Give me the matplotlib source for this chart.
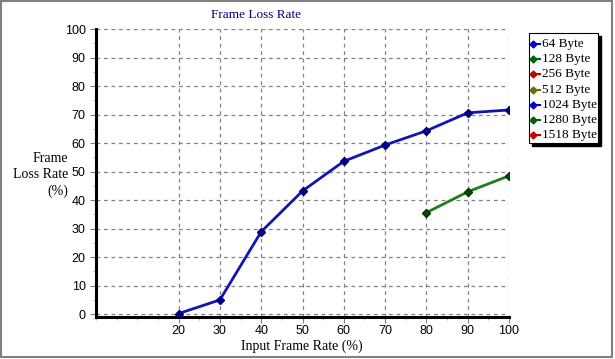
import matplotlib

matplotlib.use("Agg")

import matplotlib.pyplot as plt
from matplotlib.lines import Line2D
from matplotlib.patches import Rectangle
from matplotlib.ticker import MultipleLocator

# data
input_rates = [20, 30, 40, 50, 60, 70, 80, 90, 100]
loss_64 = [0.2, 5.0, 28.9, 43.2, 53.6, 59.3, 64.3, 70.6, 71.6]
rates_128 = [80, 90, 100]
loss_128 = [35.6, 42.9, 48.5]
legend_labels = ["64 Byte", "128 Byte", "256 Byte", "512 Byte", "1024 Byte", "1280 Byte", "1518 Byte"]
legend_colors = ["#0000c8", "#006400", "#c80000", "#6b6b00", "#0000c8", "#006400", "#c80000"]
x_ticks = [20, 30, 40, 50, 60, 70, 80, 90, 100]
y_ticks = [0, 10, 20, 30, 40, 50, 60, 70, 80, 90, 100]

serif = "Liberation Serif"
sans = "Liberation Sans"

fig = plt.figure(figsize=(6.15, 3.59), dpi=100)
fig.patch.set_facecolor("white")
fig.patches.append(Rectangle((0.002, 0.006), 0.993, 0.99, transform=fig.transFigure,
                             fill=False, edgecolor="#808080", linewidth=1.5))

ax = fig.add_axes([96 / 615, 1 - 317 / 359, (509 - 96) / 615, (317 - 29) / 359])
ax.set_xlim(0, 100)
ax.set_ylim(-1, 100)

ax.plot(input_rates, loss_64, color="#1414b4", linewidth=2, marker="D", markersize=4,
        markerfacecolor="#000090", markeredgecolor="#000070", zorder=3)
ax.plot(rates_128, loss_128, color="#1e7d1e", linewidth=2, marker="D", markersize=4,
        markerfacecolor="#005000", markeredgecolor="#003000", zorder=3)

ax.set_xticks(x_ticks)
ax.set_yticks(y_ticks)
ax.yaxis.set_minor_locator(MultipleLocator(5))
ax.xaxis.set_minor_locator(MultipleLocator(5))
ax.grid(True, which="major", linestyle=(0, (3, 3)), color="#808080", linewidth=0.9)
ax.set_axisbelow(True)

for side in ["top", "right"]:
    ax.spines[side].set_visible(False)
ax.spines["left"].set_linewidth(2.2)
ax.spines["bottom"].set_linewidth(2.2)

ax.tick_params(axis="both", which="major", length=4, width=0.8, color="#808080", labelsize=9)
ax.tick_params(axis="x", which="major", pad=1.5)
ax.tick_params(axis="both", which="minor", length=2, width=0.6, color="#a0a0a0")
for label in ax.get_xticklabels() + ax.get_yticklabels():
    label.set_fontfamily(sans)

fig.text(256 / 615, 1 - 15 / 359, "Frame Loss Rate", color="#000080", fontsize=9.5,
         family=serif, ha="center", va="center")
fig.text(302 / 615, 1 - 346 / 359, "Input Frame Rate (%)", color="black", fontsize=10,
         family=serif, ha="center", va="center")
fig.text(68 / 615, 1 - 175 / 359, "Frame\nLoss Rate\n(%)", color="black", fontsize=10,
         family=serif, ha="right", va="center", linespacing=1.35)

# legend box with drop shadow
lx0, ly0, lw, lh = 529, 33, 69, 110
fig.patches.append(Rectangle(((lx0 + 3) / 615, 1 - (ly0 + lh + 3) / 359), lw / 615, lh / 359,
                             transform=fig.transFigure, facecolor="black", edgecolor="black"))
fig.patches.append(Rectangle((lx0 / 615, 1 - (ly0 + lh) / 359), lw / 615, lh / 359,
                             transform=fig.transFigure, facecolor="white", edgecolor="black",
                             linewidth=0.8))
for i, (name, col) in enumerate(zip(legend_labels, legend_colors)):
    yy = 1 - (ly0 + 11 + i * 15.2) / 359
    fig.lines.append(Line2D([(lx0 + 4) / 615, (lx0 + 11) / 615], [yy, yy], transform=fig.transFigure,
                            color=col, linewidth=1.5, marker="D", markersize=3.5,
                            markevery=[0], markerfacecolor=col, markeredgecolor=col))
    fig.text((lx0 + 13) / 615, yy, name, fontsize=9.5, family=serif, ha="left", va="center")

fig.savefig("out.png", dpi=100)
